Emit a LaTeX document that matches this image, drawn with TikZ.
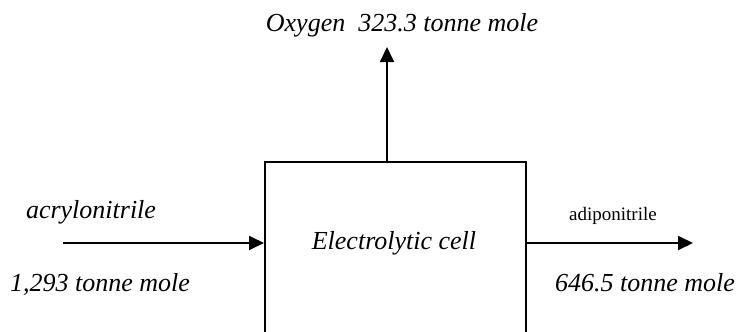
\documentclass[tikz,border=0pt]{standalone}
\usepackage{fontspec}
\setmainfont{Liberation Serif}
\usetikzlibrary{arrows.meta}
\begin{document}
\begin{tikzpicture}[x=1pt,y=-1pt,
  lbl/.style={font=\fontsize{26}{26}\selectfont\itshape, inner sep=0pt},
  flow/.style={line width=1.8pt, -{Triangle[length=15pt,width=14pt]}},
  cellbox/.style={draw, line width=1.8pt, minimum width=261pt, minimum height=200pt, inner sep=0pt}]
\useasboundingbox (0,0) rectangle (739,332);
\clip (0,0) rectangle (739,332);
\node[cellbox, anchor=north west] (cell) at (264,161) {};
\node[lbl] (ctext) at (394,243) {Electrolytic cell};
\coordinate (inL) at (63,243);
\coordinate (outR) at (693,243);
\coordinate (oxTip) at (387,47);
\coordinate (oxBase) at (387,161);
\draw[flow] (inL) -- (inL -| cell.west);
\draw[flow] (outR -| cell.east) -- (outR);
\draw[flow] (oxBase) -- (oxTip);
\node[lbl] (ox) at (402,25) {Oxygen\ \ 323.3 tonne mole};
\node[lbl] (acry) at (91,212) {acrylonitrile};
\node[lbl] (acryq) at (100,284) {1,293 tonne mole};
\node[font=\fontsize{19}{19}\selectfont, inner sep=0pt] (adip) at (613,216) {adiponitrile};
\node[lbl] (adipq) at (645,283) {646.5 tonne mole};
\end{tikzpicture}
\end{document}
